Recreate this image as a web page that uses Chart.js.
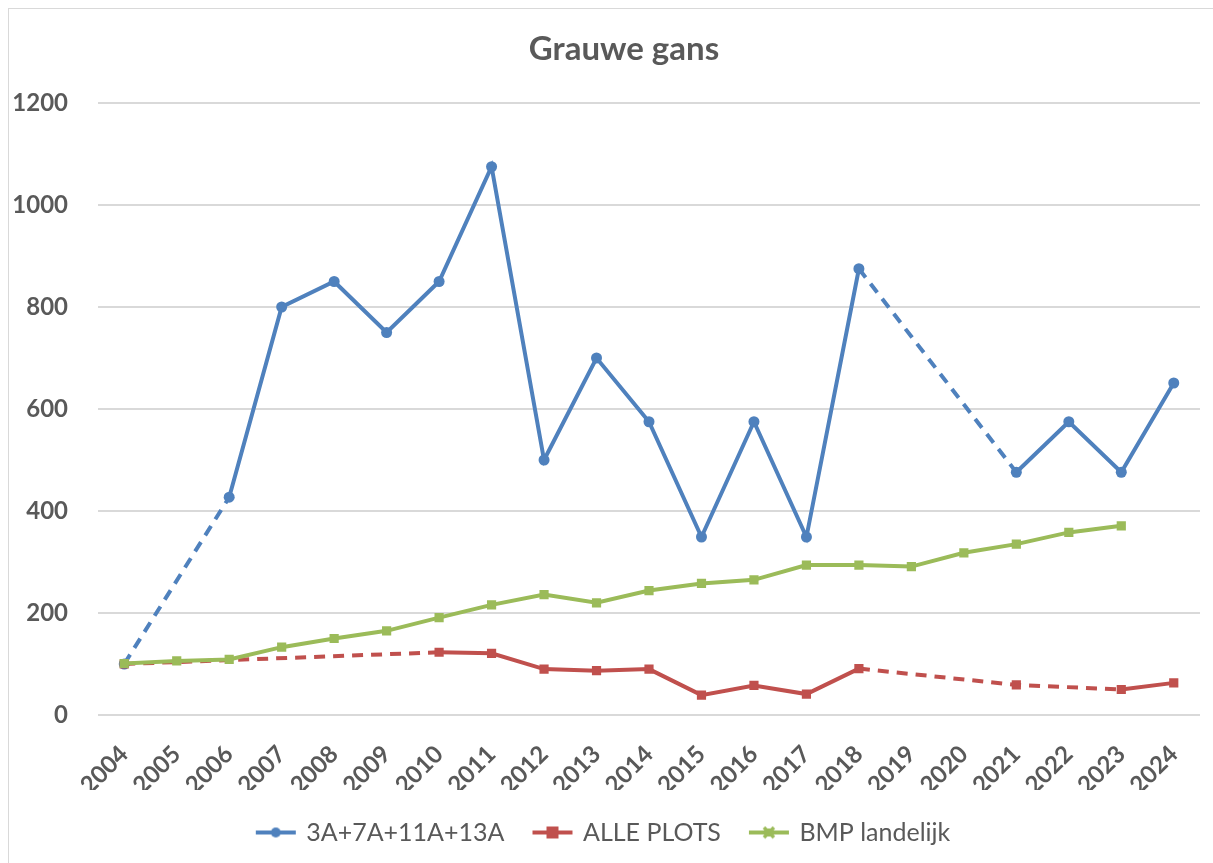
<!DOCTYPE html>
<html>
<head>
<meta charset="utf-8">
<script src="https://cdn.jsdelivr.net/npm/chart.js@4.4.1/dist/chart.umd.min.js"></script>
<style>
  html, body { margin:0; padding:0; background:#fff; }
  #wrap { position:relative; width:1213px; height:863px; }
  #frame { position:absolute; left:8px; top:8px; width:1300px; height:1000px; border:1px solid #d9d9d9; box-sizing:border-box; pointer-events:none; }
  canvas { position:absolute; left:0; top:0; }
</style>
</head>
<body>
<div id="wrap">
  <canvas id="grafico" width="1213" height="863"></canvas>
  <div id="frame"></div>
</div>
<script>
const titel = "Grauwe gans";
const jaren = ["2004","2005","2006","2007","2008","2009","2010","2011","2012","2013","2014",
  "2015","2016","2017","2018","2019","2020","2021","2022","2023","2024"];
const plots3A = [100, null, 427, 800, 850, 750, 850, 1075, 500, 700, 575,
  349, 575, 349, 875, null, null, 476, 575, 476, 651];
const allePlots = [100, null, null, null, null, null, 123, 121, 90, 87, 90,
  39, 58, 41, 91, null, null, 59, null, 50, 63];
const bmpLandelijk = [101, 106, 109, 133, 150, 165, 191, 216, 236, 220, 244,
  258, 265, 294, 294, 291, 318, 335, 358, 371, null];
const yTicks = [0, 200, 400, 600, 800, 1000, 1200];

const BLAUW = "#4F81BD", ROOD = "#C0504D", GROEN = "#9BBB59", TEKST = "#595959";
const FONT = "Lato, 'Noto Sans', sans-serif";

const gestreept = ctx => (ctx.p0.skip || ctx.p1.skip) ? [11, 8] : undefined;

function legendIcon(kleur, vorm) {
  const c = document.createElement("canvas");
  c.width = 42; c.height = 14;
  const g = c.getContext("2d");
  g.strokeStyle = kleur; g.fillStyle = kleur; g.lineWidth = 4;
  g.beginPath(); g.moveTo(1, 7); g.lineTo(41, 7); g.stroke();
  if (vorm === "circle") { g.beginPath(); g.arc(21, 7, 5, 0, Math.PI*2); g.fill(); }
  else if (vorm === "rect") { g.fillRect(15, 1, 12, 12); }
  else { g.lineWidth = 3.5; g.beginPath(); g.moveTo(16,2); g.lineTo(26,12); g.moveTo(26,2); g.lineTo(16,12); g.stroke(); g.fillRect(17, 3, 8, 8); }
  return c;
}

// titel zelf tekenen, iets rechts van het midden zoals in Excel
const titelPlugin = {
  id: "titel",
  afterDraw(chart) {
    const ctx = chart.ctx;
    ctx.save();
    ctx.font = "bold 33px " + FONT;
    ctx.fillStyle = TEKST;
    ctx.textAlign = "center";
    ctx.textBaseline = "middle";
    ctx.fillText(titel, 624, 49);
    ctx.restore();
  }
};

const datasets = [
  { label:"3A+7A+11A+13A", data:plots3A, borderColor:BLAUW, backgroundColor:BLAUW,
    pointStyle:"circle", pointRadius:5.5, borderWidth:4, order:2, icon:legendIcon(BLAUW,"circle") },
  { label:"ALLE PLOTS", data:allePlots, borderColor:ROOD, backgroundColor:ROOD,
    pointStyle:"rect", pointRadius:6.5, borderWidth:4, order:1, icon:legendIcon(ROOD,"rect") },
  { label:"BMP landelijk", data:bmpLandelijk, borderColor:GROEN, backgroundColor:GROEN,
    pointStyle:"rect", pointRadius:6.5, borderWidth:4, order:0, icon:legendIcon(GROEN,"cross") }
];
datasets.forEach(d => {
  d.spanGaps = true;
  d.tension = 0;
  d.pointBorderWidth = 0;
  d.segment = { borderDash: gestreept };
});

new Chart(document.getElementById("grafico").getContext("2d"), {
  type: "line",
  data: { labels: jaren, datasets },
  plugins: [titelPlugin],
  options: {
    responsive: false,
    animation: false,
    devicePixelRatio: 1,
    layout: { padding: { left: 8, right: 13, top: 103, bottom: 8 } },
    plugins: {
      title: { display:false },
      legend: {
        position: "bottom",
        labels: {
          color: TEKST, font:{ family:FONT, size:25 }, usePointStyle:true,
          pointStyleWidth: 36, boxHeight: 14, padding: 30,
          generateLabels: chart => chart.data.datasets.map((d, i) => ({
            text: d.label, pointStyle: d.icon, fillStyle: d.borderColor,
            strokeStyle: d.borderColor, lineWidth: 0, hidden: false, datasetIndex: i, fontColor: TEKST
          }))
        }
      },
      tooltip: { enabled:false }
    },
    scales: {
      x: {
        offset: true,
        grid: { display:false },
        border: { display:false },
        ticks: { color:TEKST, font:{ family:FONT, size:24, weight:"bold" },
          minRotation:45, maxRotation:45, padding:17, autoSkip:false },
        afterFit: ax => { ax.paddingLeft = 0; ax.height = 75; }
      },
      y: {
        min: 0, max: 1200,
        afterBuildTicks: ax => { ax.ticks = yTicks.map(v => ({ value:v })); },
        afterFit: ax => { ax.width = 90; },
        grid: { color:"#d9d9d9", lineWidth:2, drawTicks:false },
        border: { display:false },
        ticks: { color:TEKST, font:{ family:FONT, size:24, weight:"bold" }, padding:30,
          callback: v => String(v) }
      }
    }
  }
});
</script>
</body>
</html>
